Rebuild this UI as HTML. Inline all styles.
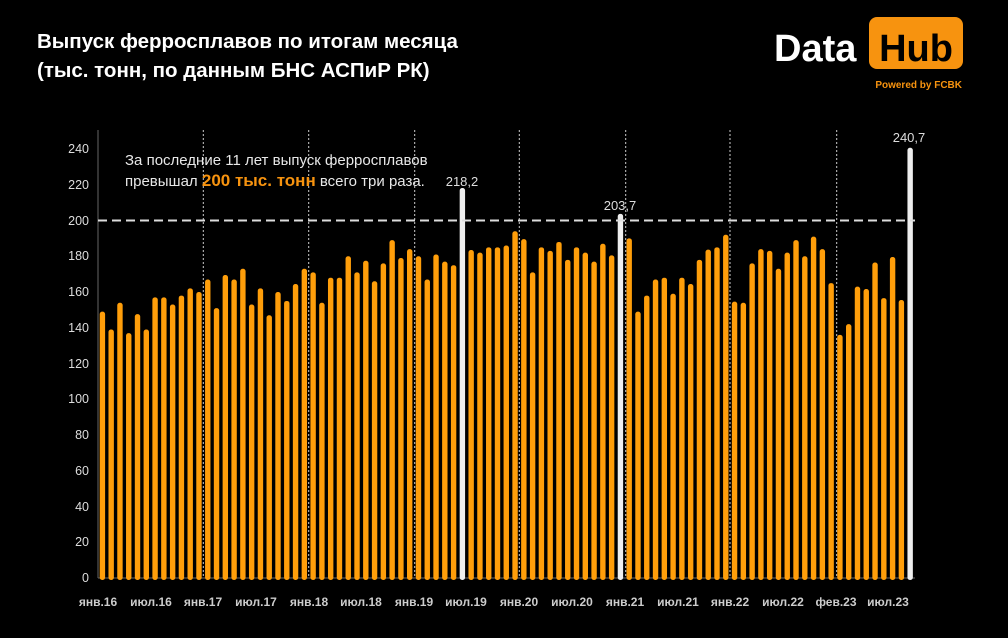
<!DOCTYPE html>
<html><head><meta charset="utf-8"><style>
body{margin:0;background:#000;width:1008px;height:638px;overflow:hidden;font-family:"Liberation Sans",sans-serif}
</style></head><body>
<svg id="s" width="1008" height="638" xmlns="http://www.w3.org/2000/svg" style="position:absolute;left:0;top:0">
<rect width="1008" height="638" fill="#000"/>
<text x="37" y="48" fill="#fff" font-size="20.5" font-weight="bold" font-family="Liberation Sans, sans-serif">Выпуск ферросплавов по итогам месяца</text>
<text x="37" y="77" fill="#fff" font-size="20.5" font-weight="bold" font-family="Liberation Sans, sans-serif">(тыс. тонн, по данным БНС АСПиР РК)</text>
<text x="774" y="61" fill="#fff" font-size="38" font-weight="bold" font-family="Liberation Sans, sans-serif">Data</text>
<rect x="869" y="17" width="94" height="52" rx="8" fill="#f7930f"/>
<text x="916" y="61" fill="#000" font-size="38" font-weight="bold" text-anchor="middle" font-family="Liberation Sans, sans-serif">Hub</text>
<text x="962" y="88" fill="#f7930f" font-size="10" font-weight="bold" text-anchor="end" font-family="Liberation Sans, sans-serif">Powered by FCBK</text>
<g id="grid" stroke="#ccc" stroke-width="1" stroke-dasharray="2,2"></g>
<line x1="98" y1="130" x2="98" y2="578" stroke="#666"/>
<line x1="98" y1="578" x2="915" y2="578" stroke="#666"/>
<g id="bars"></g>
<line x1="98" y1="220.5" x2="915" y2="220.5" stroke="#ddd" stroke-width="2" stroke-dasharray="9,5"/>
<g fill="#ddd" font-size="12.5" text-anchor="end" font-family="Liberation Sans, sans-serif">
<text x="89" y="582">0</text><text x="89" y="546">20</text><text x="89" y="511">40</text><text x="89" y="475">60</text><text x="89" y="439">80</text><text x="89" y="403">100</text><text x="89" y="368">120</text><text x="89" y="332">140</text><text x="89" y="296">160</text><text x="89" y="260">180</text><text x="89" y="225">200</text><text x="89" y="189">220</text><text x="89" y="153">240</text>
</g>
<g fill="#ccc" font-size="12" font-weight="bold" text-anchor="middle" font-family="Liberation Sans, sans-serif">
<text x="98" y="606">янв.16</text><text x="151" y="606">июл.16</text><text x="203" y="606">янв.17</text><text x="256" y="606">июл.17</text><text x="309" y="606">янв.18</text><text x="361" y="606">июл.18</text><text x="414" y="606">янв.19</text><text x="466" y="606">июл.19</text><text x="519" y="606">янв.20</text><text x="572" y="606">июл.20</text><text x="625" y="606">янв.21</text><text x="678" y="606">июл.21</text><text x="730" y="606">янв.22</text><text x="783" y="606">июл.22</text><text x="836" y="606">фев.23</text><text x="888" y="606">июл.23</text>
</g>
<g fill="#ddd" font-size="13" text-anchor="middle" font-family="Liberation Sans, sans-serif">
<text x="462" y="186">218,2</text><text x="620" y="210">203,7</text><text x="909" y="142">240,7</text>
</g>
<text x="125" y="165" fill="#e8e8e8" font-size="15" font-family="Liberation Sans, sans-serif">За последние 11 лет выпуск ферросплавов</text>
<text x="125" y="186" fill="#e8e8e8" font-size="15" font-family="Liberation Sans, sans-serif">превышал <tspan fill="#f7930f" font-size="17" font-weight="bold">200 тыс. тонн</tspan> всего три раза.</text>
</svg>
<script>
var v=[149,139,154,137,147.6,139,157,157,153,158,162,160,
167,151,169.5,167,173,153,162,147,160,155,164.5,173,
171,154,168,168,180,171,177.5,166,176,189,179,184,
180,167,181,177,175,218.2,183.5,182,185,185,186,194,
189.6,171,185,183,188,178,185,182,177,187,180.5,203.7,
190,149,158,167,168,159,168,164.5,178,183.7,185,192,
154.6,154,176,184,183,173,182,189,180,191,184,165,
136,142,163,161.7,176.5,156.6,179.6,155.5,240.7];
var ns="http://www.w3.org/2000/svg",b=document.getElementById("bars"),g=document.getElementById("grid");
v.forEach(function(d,i){var cx=102.4+i*8.78,h=d*1.7875,r=document.createElementNS(ns,"rect");
r.setAttribute("x",cx-2.7);r.setAttribute("y",578-h);r.setAttribute("width",5.4);r.setAttribute("height",h+2);r.setAttribute("rx",2.5);
r.setAttribute("fill",(i==41||i==59||i==92)?"#eeeeee":"#ff9e0a");b.appendChild(r);});
[203.3,308.7,414.7,519.3,625.7,730,836.7].forEach(function(x){var l=document.createElementNS(ns,"line");
l.setAttribute("x1",x);l.setAttribute("x2",x);l.setAttribute("y1",130);l.setAttribute("y2",578);g.appendChild(l);});
</script>
</body></html>
